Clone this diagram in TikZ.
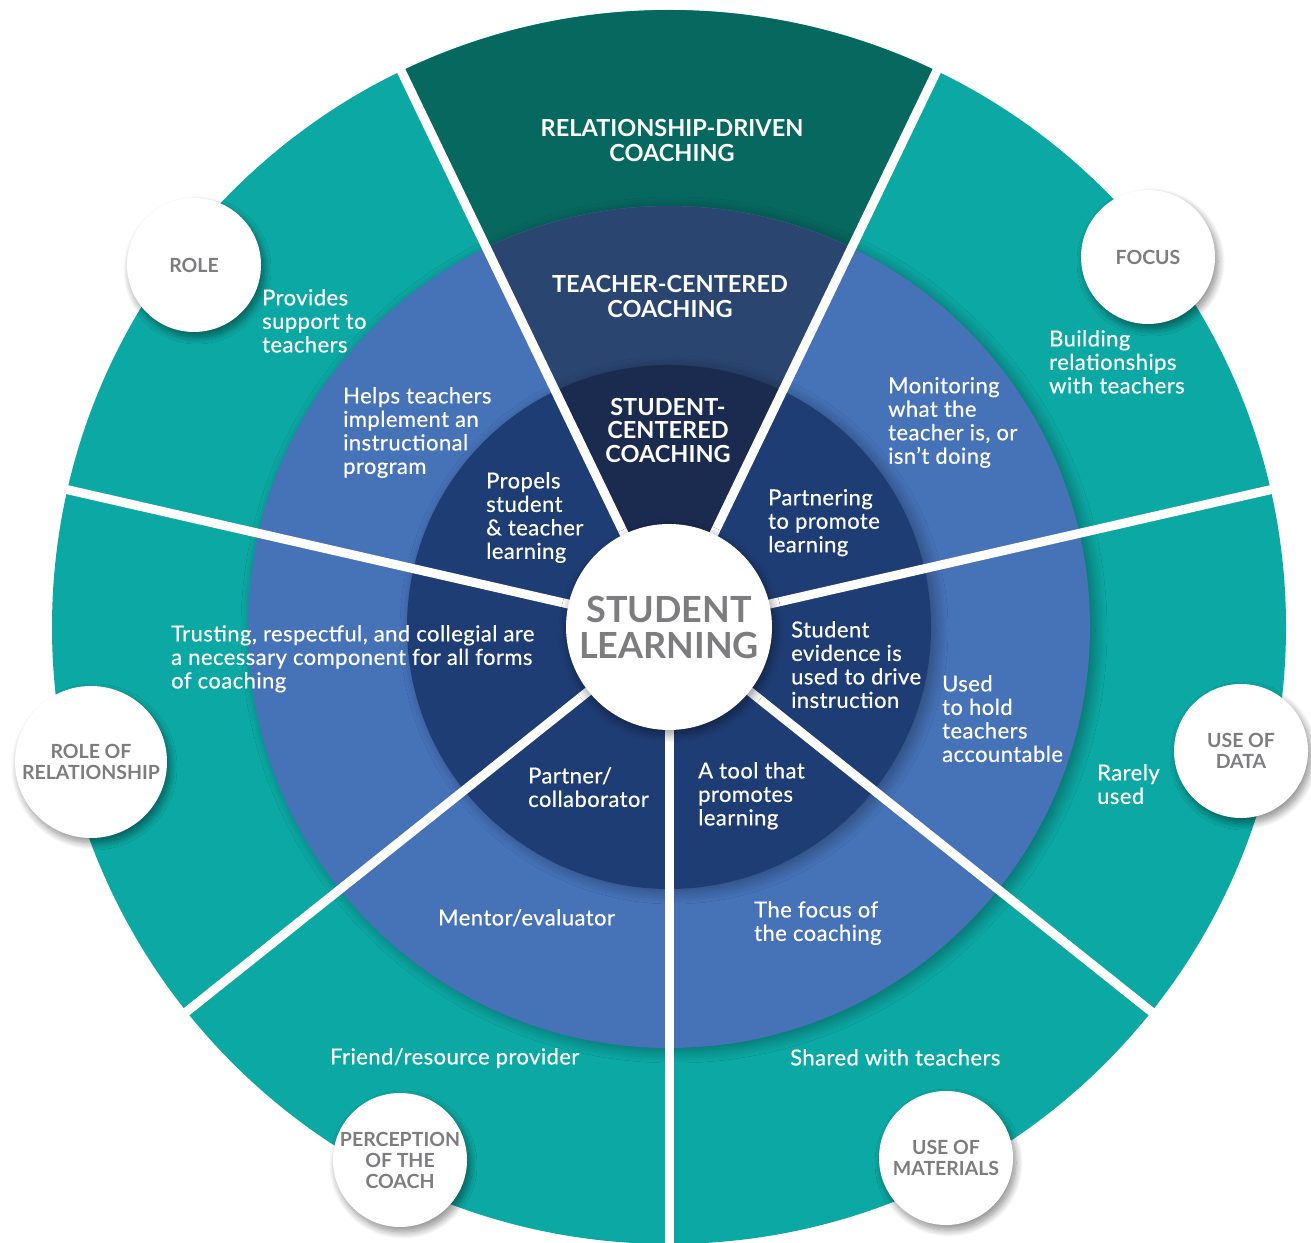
\documentclass[tikz,border=0pt]{standalone}
\usepackage{fontspec}
\setmainfont{Lato}
\newfontfamily\bodyfont{Lato}[LetterSpace=2, FakeBold=0.5]
\usetikzlibrary{shadows.blur}
\definecolor{tealout}{RGB}{12,168,163}
\definecolor{tealdark}{RGB}{7,104,96}
\definecolor{midblue}{RGB}{70,114,184}
\definecolor{navyin}{RGB}{31,61,117}
\definecolor{teachcol}{RGB}{43,69,113}
\definecolor{studcol}{RGB}{27,43,80}
\definecolor{labgray}{RGB}{125,125,128}
\begin{document}
\begin{tikzpicture}[x=1pt,y=1pt,
  bodytxt/.style={font=\bodyfont\fontsize{22}{23.5}\selectfont, text=white, align=left, anchor=north west, inner sep=0pt},
  headtxt/.style={font=\bfseries\fontsize{23.5}{25}\selectfont, text=white, align=center, inner sep=0pt},
  labelcirc/.style={circle, fill=white, minimum size=134pt, inner sep=0pt, align=center, text=labgray,
    font=\bfseries\fontsize{19.5}{21}\selectfont,
    blur shadow={shadow xshift=3pt, shadow yshift=-5pt, shadow blur radius=7pt, shadow blur steps=12, shadow opacity=45}},
  divider/.style={draw=white, line width=9pt},
  ringshadow/.style={blur shadow={shadow xshift=5pt, shadow yshift=-3pt, shadow blur radius=12pt, shadow blur steps=14, shadow opacity=35}}
]
\useasboundingbox (0,0) rectangle (1311,1242);
\clip (0,0) rectangle (1311,1242);
\coordinate (C) at (669,615);

% outer ring
\fill[tealout] (C) circle[radius=617pt];
\fill[tealdark] (C) -- ++(64.286:617) arc[start angle=64.286, end angle=115.714, radius=617pt] -- cycle;
% middle ring
\fill[midblue, ringshadow] (C) circle[radius=421pt];
\fill[teachcol] (C) -- ++(64.286:421) arc[start angle=64.286, end angle=115.714, radius=421pt] -- cycle;
% inner ring
\fill[navyin, ringshadow] (C) circle[radius=262pt];
\fill[studcol] (C) -- ++(64.286:262) arc[start angle=64.286, end angle=115.714, radius=262pt] -- cycle;

% dividers
\foreach \a in {12.857,64.286,115.714,167.143,218.571,270,321.429}
  \draw[divider] (C) -- ++(\a:640);

% centre
\node[circle, fill=white, minimum size=206pt, inner sep=0pt, align=center, text=labgray,
  font=\bfseries\fontsize{36}{36}\selectfont,
  blur shadow={shadow xshift=2pt, shadow yshift=-4pt, shadow blur radius=9pt, shadow blur steps=12, shadow opacity=45}]
  (SL) at (C) {STUDENT\\LEARNING};

% label circles
\node[labelcirc] (role) at (194,977) {ROLE};
\node[labelcirc] (focus) at (1148,985) {FOCUS};
\node[labelcirc, minimum size=152pt] (rorel) at (91,480) {ROLE OF\\RELATIONSHIP};
\node[labelcirc] (udata) at (1241,491) {USE OF\\DATA};
\node[labelcirc] (perc) at (400,82) {PERCEPTION\\OF THE\\COACH};
\node[labelcirc] (umat) at (946,84) {USE OF\\MATERIALS};

% headings
\node[headtxt] (hrel) at (672,1101.5) {RELATIONSHIP-DRIVEN\\COACHING};
\node[headtxt] (hteach) at (670,945.5) {TEACHER-CENTERED\\COACHING};
\node[headtxt, font=\bfseries\fontsize{23.5}{23.5}\selectfont] (hstud) at (668,811.5) {STUDENT-\\CENTERED\\COACHING};

% body texts
\node[bodytxt] (prov) at (262,953) {Provides\\support to\\teachers};
\node[bodytxt] (helps) at (343,855) {Helps teachers\\implement an\\instructional\\program};
\node[bodytxt] (propels) at (486,770) {Propels\\student\\\& teacher\\learning};
\node[bodytxt] (monit) at (888,865) {Monitoring\\what the\\teacher is, or\\isn’t doing};
\node[bodytxt] (build) at (1049,912) {Building\\relationships\\with teachers};
\node[bodytxt] (partn) at (768,753) {Partnering\\to promote\\learning};
\node[bodytxt] (trust) at (171,617) {Trusting, respectful, and collegial are\\a necessary component for all forms\\of coaching};
\node[bodytxt] (evid) at (791,621) {Student\\evidence is\\used to drive\\instruction};
\node[bodytxt] (usedh) at (942,567) {Used\\to hold\\teachers\\accountable};
\node[bodytxt] (rarely) at (1097,478) {Rarely\\used};
\node[bodytxt] (partner) at (528,475) {Partner/\\collaborator};
\node[bodytxt] (tool) at (698,480) {A tool that\\promotes\\learning};
\node[bodytxt] (mentor) at (438,333) {Mentor/evaluator};
\node[bodytxt] (focusof) at (754,341) {The focus of\\the coaching};
\node[bodytxt] (friend) at (330,194) {Friend/resource provider};
\node[bodytxt] (shared) at (790,193) {Shared with teachers};
\end{tikzpicture}
\end{document}
